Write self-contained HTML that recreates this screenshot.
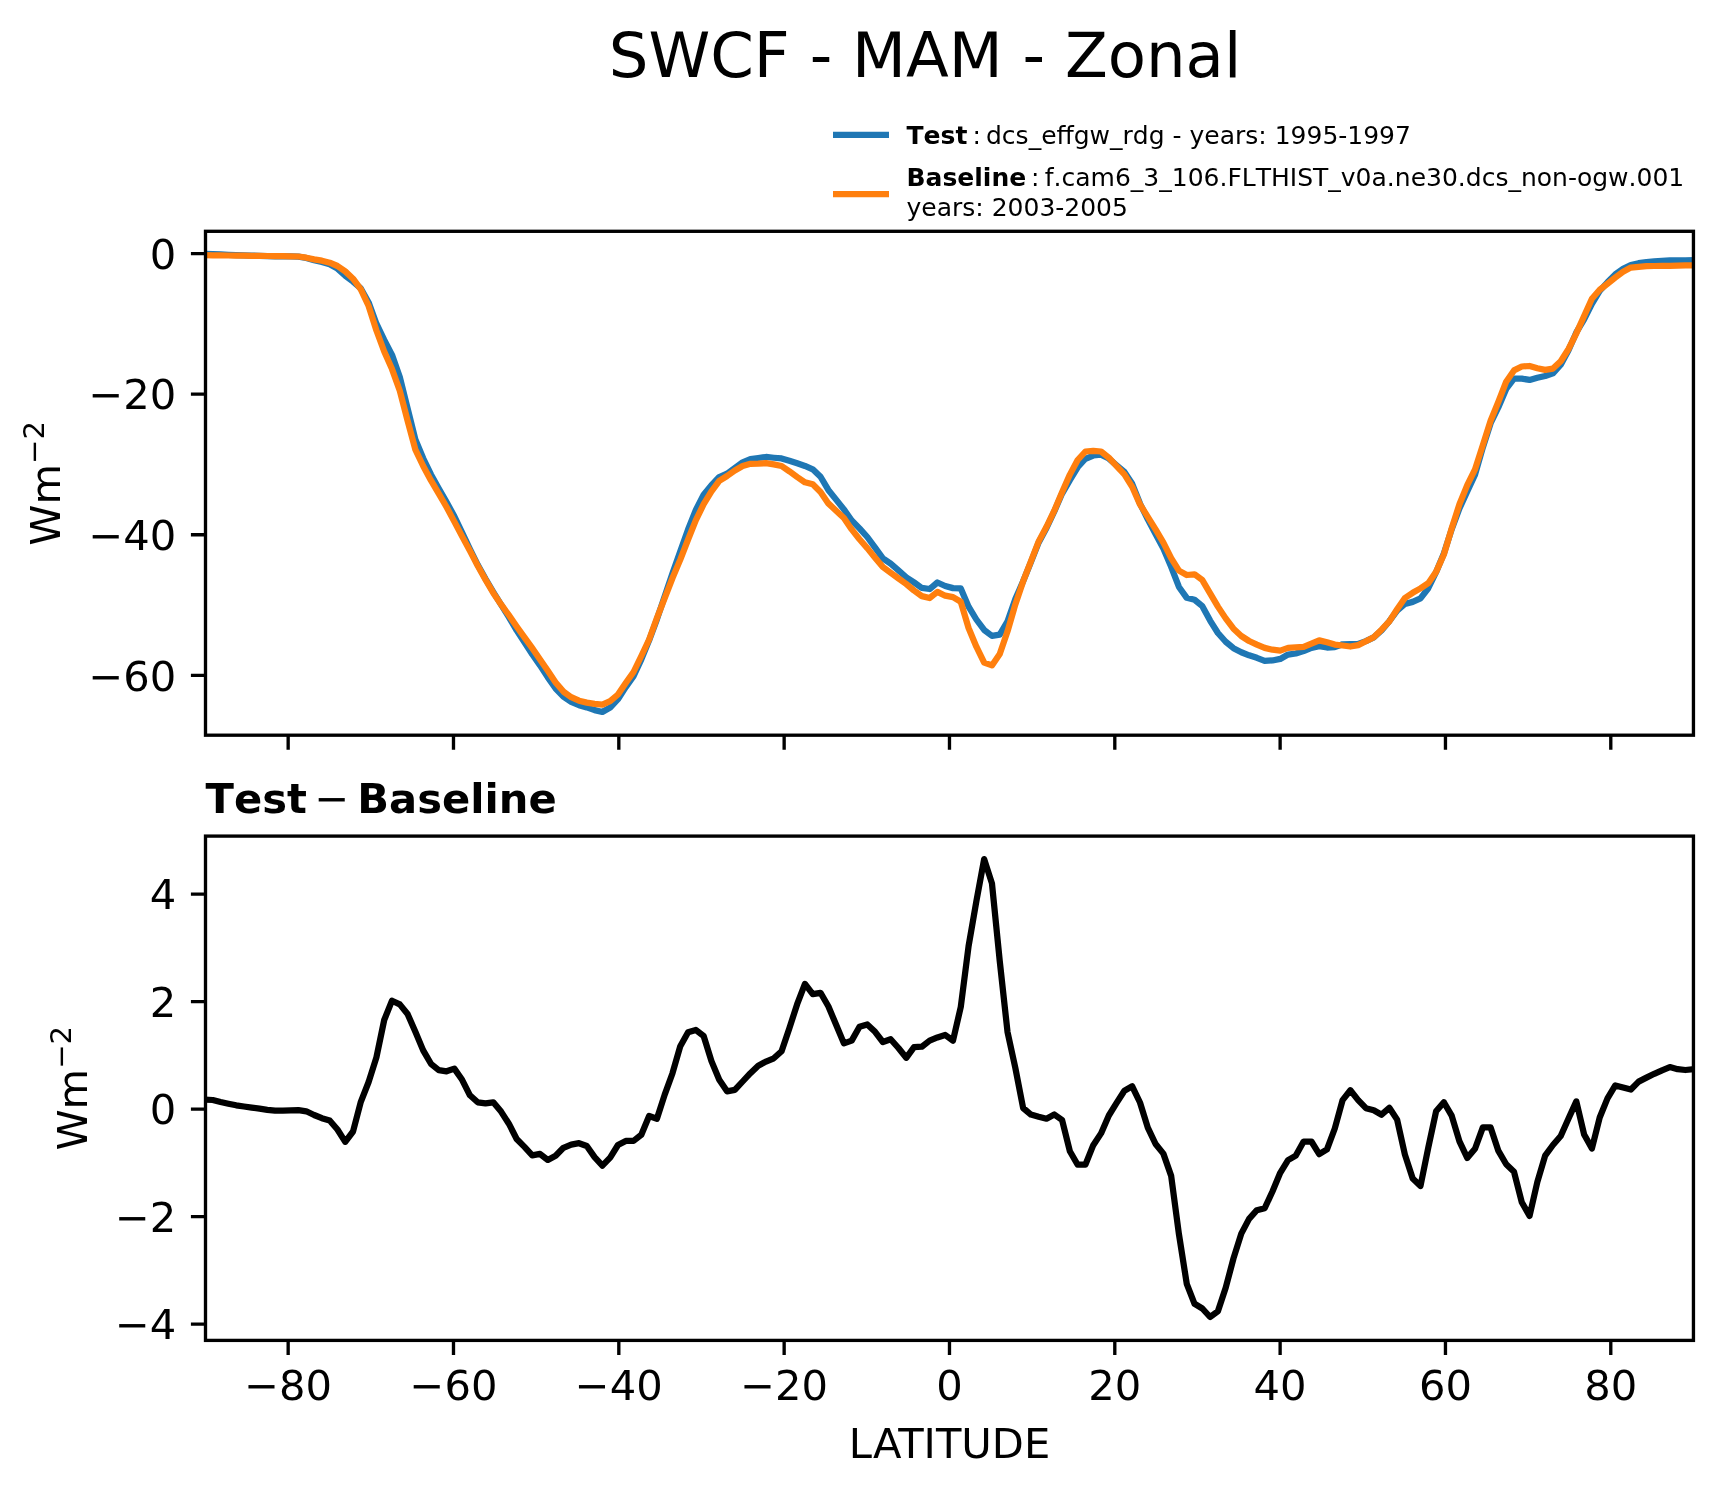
<!DOCTYPE html><html><head><meta charset="utf-8"><title>SWCF - MAM - Zonal</title>
<style>html,body{margin:0;padding:0;background:#fff;overflow:hidden;width:1722px;height:1496px;}svg{display:block;}text{font-family:'DejaVu Sans', 'Liberation Sans', sans-serif;fill:#000;}.nk{font-kerning:none;}svg{will-change:transform;}</style></head><body>
<svg width="1722" height="1496" viewBox="0 0 1722 1496">
<rect x="0" y="0" width="1722" height="1496" fill="#fff"/>
<defs><clipPath id="ct"><rect x="205.5" y="231.3" width="1487.95" height="503.90000000000003"/></clipPath><clipPath id="cb"><rect x="205.5" y="836.1" width="1487.95" height="504.30000000000007"/></clipPath></defs>
<text x="925.0" y="76.9" font-size="62.5" text-anchor="middle">SWCF - MAM - Zonal</text>
<line x1="833" y1="134.85" x2="889" y2="134.85" stroke="#1f77b4" stroke-width="6.25" stroke-linecap="butt"/>
<line x1="833" y1="194" x2="889" y2="194" stroke="#ff7f0e" stroke-width="6.25" stroke-linecap="butt"/>
<text x="906.5" y="144.3" font-size="25" class="nk"><tspan font-weight="bold">Test</tspan></text>
<text x="972.5" y="144.3" font-size="25" class="nk">:</text>
<text x="986" y="144.3" font-size="25" class="nk">dcs_effgw_rdg - years: 1995-1997</text>
<text x="906.5" y="186.1" font-size="25" class="nk"><tspan font-weight="bold">Baseline</tspan></text>
<text x="1031" y="186.1" font-size="25" class="nk">:</text>
<text x="1044.8" y="186.1" font-size="25" class="nk">f.cam6_3_106.FLTHIST_v0a.ne30.dcs_non-ogw.001</text>
<text x="906.5" y="216.1" font-size="25" class="nk">years: 2003-2005</text>
<g clip-path="url(#ct)" fill="none" stroke-width="6.25" stroke-linejoin="round" stroke-linecap="square">
<polyline points="205.00,253.96 212.79,254.10 220.58,254.46 228.37,254.78 236.17,255.09 243.96,255.35 251.75,255.59 259.54,255.83 267.33,256.08 275.12,256.30 282.92,256.38 290.71,256.46 298.50,256.63 306.29,257.97 314.08,260.16 321.87,261.88 329.67,264.18 337.46,268.65 345.25,275.66 353.04,281.62 360.83,288.43 368.62,302.44 376.42,323.73 384.21,339.84 392.00,354.91 399.79,377.10 407.58,408.15 415.37,439.47 423.17,458.31 430.96,474.46 438.75,488.50 446.54,502.04 454.33,516.29 462.12,532.56 469.92,548.98 477.71,564.80 485.50,578.84 493.29,592.00 501.08,604.71 508.87,617.10 516.66,630.40 524.46,642.33 532.25,654.23 540.04,665.34 547.83,677.43 555.62,688.48 563.41,696.65 571.21,701.83 579.00,705.15 586.79,707.41 594.58,710.16 602.37,711.97 610.16,707.53 617.96,699.18 625.75,687.15 633.54,676.15 641.33,659.35 649.12,640.39 656.91,619.34 664.71,596.19 672.50,573.29 680.29,551.36 688.08,529.44 695.87,509.84 703.66,494.63 711.46,485.11 719.25,477.04 727.04,473.66 734.83,467.98 742.62,462.38 750.41,459.09 758.21,458.01 766.00,456.98 773.79,457.74 781.58,458.43 789.37,460.71 797.16,463.27 804.95,465.92 812.75,469.26 820.54,476.78 828.33,489.93 836.12,499.66 843.91,509.40 851.70,520.43 859.50,528.41 867.29,537.01 875.08,547.68 882.87,558.31 890.66,563.65 898.45,570.40 906.25,577.28 914.04,582.38 921.83,587.93 929.62,589.03 937.41,582.51 945.20,586.00 953.00,588.13 960.79,588.42 968.58,606.67 976.37,619.50 984.16,629.90 991.95,635.87 999.75,634.63 1007.54,621.23 1015.33,598.99 1023.12,581.24 1030.91,562.11 1038.70,542.39 1046.50,528.04 1054.29,511.39 1062.08,493.61 1069.87,480.10 1077.66,467.26 1085.45,458.76 1093.25,455.51 1101.04,454.66 1108.83,458.52 1116.62,465.28 1124.41,471.98 1132.20,483.81 1139.99,503.52 1147.79,519.32 1155.58,533.95 1163.37,548.41 1171.16,566.82 1178.95,586.96 1186.74,597.83 1194.54,599.75 1202.33,606.16 1210.12,620.57 1217.91,633.01 1225.70,641.75 1233.49,648.21 1241.29,652.27 1249.08,655.34 1256.87,657.81 1264.66,660.85 1272.45,660.46 1280.24,658.92 1288.04,654.56 1295.83,653.47 1303.62,651.12 1311.41,647.92 1319.20,646.27 1326.99,647.54 1334.79,647.12 1342.58,644.31 1350.37,644.03 1358.16,643.91 1365.95,641.17 1373.74,637.33 1381.54,630.42 1389.33,621.22 1397.12,610.66 1404.91,603.94 1412.70,601.86 1420.49,598.44 1428.28,588.23 1436.08,572.17 1443.87,553.58 1451.66,529.34 1459.45,508.40 1467.24,491.47 1475.03,474.58 1482.83,447.48 1490.62,423.18 1498.41,407.15 1506.20,388.90 1513.99,378.59 1521.78,378.66 1529.58,379.95 1537.37,377.71 1545.16,375.98 1552.95,373.28 1560.74,364.70 1568.53,350.20 1576.33,332.38 1584.12,319.31 1591.91,303.83 1599.70,290.89 1607.49,282.29 1615.28,274.39 1623.08,268.86 1630.87,265.02 1638.66,263.19 1646.45,262.07 1654.24,261.37 1662.03,260.81 1669.83,260.40 1677.62,260.37 1685.41,260.27 1693.20,260.07" stroke="#1f77b4"/>
<polyline points="205.00,255.20 212.79,255.30 220.58,255.40 228.37,255.50 236.17,255.60 243.96,255.70 251.75,255.80 259.54,255.90 267.33,256.00 275.12,256.10 282.92,256.20 290.71,256.30 298.50,256.50 306.29,257.70 314.08,259.40 321.87,260.70 329.67,262.70 337.46,266.00 345.25,271.40 353.04,278.70 360.83,289.40 368.62,306.00 376.42,330.50 384.21,351.50 392.00,369.10 399.79,390.80 407.58,420.60 415.37,449.60 423.17,466.00 430.96,480.40 438.75,493.60 446.54,507.00 454.33,521.60 462.12,536.40 469.92,550.80 477.71,565.70 485.50,579.60 493.29,592.90 501.08,604.40 508.87,615.20 516.66,626.50 524.46,637.40 532.25,648.20 540.04,659.50 547.83,670.80 555.62,682.40 563.41,691.60 571.21,697.20 579.00,700.70 586.79,702.60 594.58,703.90 602.37,704.60 610.16,701.20 617.96,694.50 625.75,683.00 633.54,672.00 641.33,656.00 649.12,639.50 656.91,618.10 664.71,598.10 672.50,578.00 680.29,559.60 688.08,539.50 695.87,520.20 703.66,504.20 711.46,491.40 719.25,480.90 727.04,476.00 734.83,470.50 742.62,466.00 750.41,463.80 758.21,463.70 766.00,463.20 773.79,464.40 781.58,466.00 789.37,471.30 797.16,477.00 804.95,482.30 812.75,484.30 820.54,492.00 828.33,503.40 836.12,510.70 843.91,518.00 851.70,529.40 859.50,539.20 867.29,548.10 875.08,557.80 882.87,567.10 890.66,572.80 898.45,578.40 906.25,584.00 914.04,590.50 921.83,596.10 929.62,598.00 937.41,591.90 945.20,595.70 953.00,597.10 960.79,601.80 968.58,628.00 976.37,646.70 984.16,662.60 991.95,665.40 999.75,654.00 1007.54,631.30 1015.33,604.40 1023.12,581.40 1030.91,561.40 1038.70,541.40 1046.50,526.80 1054.29,510.70 1062.08,492.20 1069.87,474.60 1077.66,460.00 1085.45,451.50 1093.25,450.80 1101.04,451.50 1108.83,457.70 1116.62,466.10 1124.41,474.40 1132.20,486.80 1139.99,504.40 1147.79,516.90 1155.58,529.40 1163.37,542.60 1171.16,558.10 1178.95,570.60 1186.74,575.00 1194.54,574.30 1202.33,580.10 1210.12,593.40 1217.91,606.60 1225.70,618.40 1233.49,628.70 1241.29,636.00 1249.08,641.00 1256.87,644.60 1264.66,647.90 1272.45,649.70 1280.24,650.60 1288.04,647.90 1295.83,647.40 1303.62,646.90 1311.41,643.70 1319.20,640.40 1326.99,642.30 1334.79,644.60 1342.58,645.50 1350.37,646.50 1358.16,645.10 1365.95,641.30 1373.74,637.20 1381.54,629.70 1389.33,621.40 1397.12,609.30 1404.91,598.00 1412.70,592.80 1420.49,588.40 1428.28,583.20 1436.08,571.90 1443.87,554.50 1451.66,528.50 1459.45,504.20 1467.24,485.10 1475.03,469.40 1482.83,445.10 1490.62,420.80 1498.41,401.70 1506.20,381.70 1513.99,370.40 1521.78,366.50 1529.58,366.00 1537.37,368.20 1545.16,369.90 1552.95,368.60 1560.74,361.20 1568.53,349.00 1576.33,333.40 1584.12,316.00 1591.91,298.70 1599.70,289.80 1607.49,283.70 1615.28,277.50 1623.08,271.70 1630.87,267.60 1638.66,266.80 1646.45,266.20 1654.24,266.00 1662.03,265.90 1669.83,265.90 1677.62,265.60 1685.41,265.40 1693.20,265.30" stroke="#ff7f0e"/>
</g>
<g clip-path="url(#cb)" fill="none" stroke-width="6.25" stroke-linejoin="round" stroke-linecap="square">
<polyline points="205.00,1099.70 212.79,1100.00 220.58,1102.00 228.37,1103.70 236.17,1105.30 243.96,1106.50 251.75,1107.60 259.54,1108.70 267.33,1109.80 275.12,1110.70 282.92,1110.60 290.71,1110.40 298.50,1110.20 306.29,1111.30 314.08,1115.00 321.87,1118.20 329.67,1120.50 337.46,1129.50 345.25,1141.80 353.04,1131.50 360.83,1101.80 368.62,1082.00 376.42,1057.40 384.21,1020.00 392.00,1000.70 399.79,1004.40 407.58,1014.00 415.37,1031.70 423.17,1050.40 430.96,1063.80 438.75,1070.20 446.54,1071.30 454.33,1068.60 462.12,1079.80 469.92,1095.30 477.71,1102.30 485.50,1103.40 493.29,1102.30 501.08,1111.60 508.87,1123.70 516.66,1139.00 524.46,1146.90 532.25,1155.30 540.04,1153.90 547.83,1159.90 555.62,1155.70 563.41,1147.80 571.21,1144.60 579.00,1143.20 586.79,1146.00 594.58,1157.10 602.37,1165.60 610.16,1157.60 617.96,1145.00 625.75,1140.90 633.54,1140.90 641.33,1134.80 649.12,1116.00 656.91,1118.70 664.71,1094.60 672.50,1073.20 680.29,1046.20 688.08,1032.30 695.87,1030.00 703.66,1036.00 711.46,1061.10 719.25,1079.70 727.04,1091.30 734.83,1089.90 742.62,1081.50 750.41,1073.20 758.21,1065.70 766.00,1061.60 773.79,1058.30 781.58,1051.30 789.37,1028.20 797.16,1004.20 804.95,983.90 812.75,994.20 820.54,992.80 828.33,1006.20 836.12,1024.80 843.91,1043.40 851.70,1040.60 859.50,1026.70 867.29,1024.40 875.08,1031.80 882.87,1042.00 890.66,1039.20 898.45,1048.00 906.25,1057.80 914.04,1047.10 921.83,1046.70 929.62,1040.60 937.41,1037.40 945.20,1035.00 953.00,1040.60 960.79,1006.90 968.58,946.10 976.37,901.20 984.16,859.10 991.95,883.40 999.75,961.10 1007.54,1032.20 1015.33,1067.80 1023.12,1108.00 1030.91,1114.60 1038.70,1116.80 1046.50,1118.70 1054.29,1114.50 1062.08,1120.00 1069.87,1151.30 1077.66,1164.70 1085.45,1164.70 1093.25,1145.20 1101.04,1133.40 1108.83,1115.50 1116.62,1102.90 1124.41,1090.70 1132.20,1086.30 1139.99,1102.50 1147.79,1127.70 1155.58,1144.00 1163.37,1153.60 1171.16,1175.90 1178.95,1234.30 1186.74,1283.80 1194.54,1303.80 1202.33,1308.50 1210.12,1317.00 1217.91,1311.20 1225.70,1287.80 1233.49,1258.40 1241.29,1233.60 1249.08,1218.90 1256.87,1210.20 1264.66,1208.20 1272.45,1191.50 1280.24,1172.80 1288.04,1160.10 1295.83,1155.60 1303.62,1141.50 1311.41,1141.50 1319.20,1154.10 1326.99,1149.30 1334.79,1128.50 1342.58,1100.10 1350.37,1090.30 1358.16,1100.10 1365.95,1108.20 1373.74,1110.20 1381.54,1114.70 1389.33,1107.80 1397.12,1119.60 1404.91,1154.60 1412.70,1178.50 1420.49,1186.00 1428.28,1147.70 1436.08,1111.30 1443.87,1102.20 1451.66,1115.60 1459.45,1141.30 1467.24,1157.90 1475.03,1148.80 1482.83,1127.40 1490.62,1127.40 1498.41,1150.90 1506.20,1164.30 1513.99,1171.80 1521.78,1202.20 1529.58,1215.90 1537.37,1181.90 1545.16,1155.70 1552.95,1145.00 1560.74,1136.00 1568.53,1118.40 1576.33,1101.40 1584.12,1134.50 1591.91,1148.40 1599.70,1117.50 1607.49,1098.40 1615.28,1085.40 1623.08,1087.50 1630.87,1089.50 1638.66,1081.60 1646.45,1077.60 1654.24,1073.80 1662.03,1070.30 1669.83,1067.10 1677.62,1069.20 1685.41,1070.00 1693.20,1069.20" stroke="#000"/>
</g>
<rect x="205.5" y="231.3" width="1487.95" height="503.90000000000003" fill="none" stroke="#000" stroke-width="3.3333" stroke-linejoin="miter" stroke-linecap="square"/>
<rect x="205.5" y="836.1" width="1487.95" height="504.30000000000007" fill="none" stroke="#000" stroke-width="3.3333" stroke-linejoin="miter" stroke-linecap="square"/>
<path d="M288.16,735.2v14.583 M288.16,1340.4v14.583 M453.49,735.2v14.583 M453.49,1340.4v14.583 M618.82,735.2v14.583 M618.82,1340.4v14.583 M784.15,735.2v14.583 M784.15,1340.4v14.583 M949.48,735.2v14.583 M949.48,1340.4v14.583 M1114.80,735.2v14.583 M1114.80,1340.4v14.583 M1280.13,735.2v14.583 M1280.13,1340.4v14.583 M1445.46,735.2v14.583 M1445.46,1340.4v14.583 M1610.79,735.2v14.583 M1610.79,1340.4v14.583 M205.5,253.60h-14.583 M205.5,394.17h-14.583 M205.5,534.73h-14.583 M205.5,675.30h-14.583 M205.5,894.20h-14.583 M205.5,1001.70h-14.583 M205.5,1109.20h-14.583 M205.5,1216.70h-14.583 M205.5,1324.20h-14.583" stroke="#000" stroke-width="3.3333" fill="none"/>
<text x="176.3" y="268.80" font-size="41.667" text-anchor="end">0</text>
<text x="176.3" y="409.37" font-size="41.667" text-anchor="end">−20</text>
<text x="176.3" y="549.93" font-size="41.667" text-anchor="end">−40</text>
<text x="176.3" y="690.50" font-size="41.667" text-anchor="end">−60</text>
<text x="176.3" y="909.40" font-size="41.667" text-anchor="end">4</text>
<text x="176.3" y="1016.90" font-size="41.667" text-anchor="end">2</text>
<text x="176.3" y="1124.40" font-size="41.667" text-anchor="end">0</text>
<text x="176.3" y="1231.90" font-size="41.667" text-anchor="end">−2</text>
<text x="176.3" y="1339.40" font-size="41.667" text-anchor="end">−4</text>
<text x="288.16" y="1400.0" font-size="41.667" text-anchor="middle">−80</text>
<text x="453.49" y="1400.0" font-size="41.667" text-anchor="middle">−60</text>
<text x="618.82" y="1400.0" font-size="41.667" text-anchor="middle">−40</text>
<text x="784.15" y="1400.0" font-size="41.667" text-anchor="middle">−20</text>
<text x="949.48" y="1400.0" font-size="41.667" text-anchor="middle">0</text>
<text x="1114.80" y="1400.0" font-size="41.667" text-anchor="middle">20</text>
<text x="1280.13" y="1400.0" font-size="41.667" text-anchor="middle">40</text>
<text x="1445.46" y="1400.0" font-size="41.667" text-anchor="middle">60</text>
<text x="1610.79" y="1400.0" font-size="41.667" text-anchor="middle">80</text>
<text x="949.5" y="1457.8" font-size="41.667" text-anchor="middle">LATITUDE</text>
<text transform="translate(60.1,545.7) rotate(-90)" font-size="41.667">Wm<tspan dy="-16" font-size="29.17">−2</tspan></text>
<text transform="translate(87.1,1150.6) rotate(-90)" font-size="41.667">Wm<tspan dy="-16" font-size="29.17">−2</tspan></text>
<text x="205.5" y="812.5" font-size="41.667" font-weight="bold" class="nk">Test</text>
<text x="314.6" y="812.5" font-size="41.667">−</text>
<text x="357.3" y="812.5" font-size="41.667" font-weight="bold" class="nk">Baseline</text>
</svg></body></html>
